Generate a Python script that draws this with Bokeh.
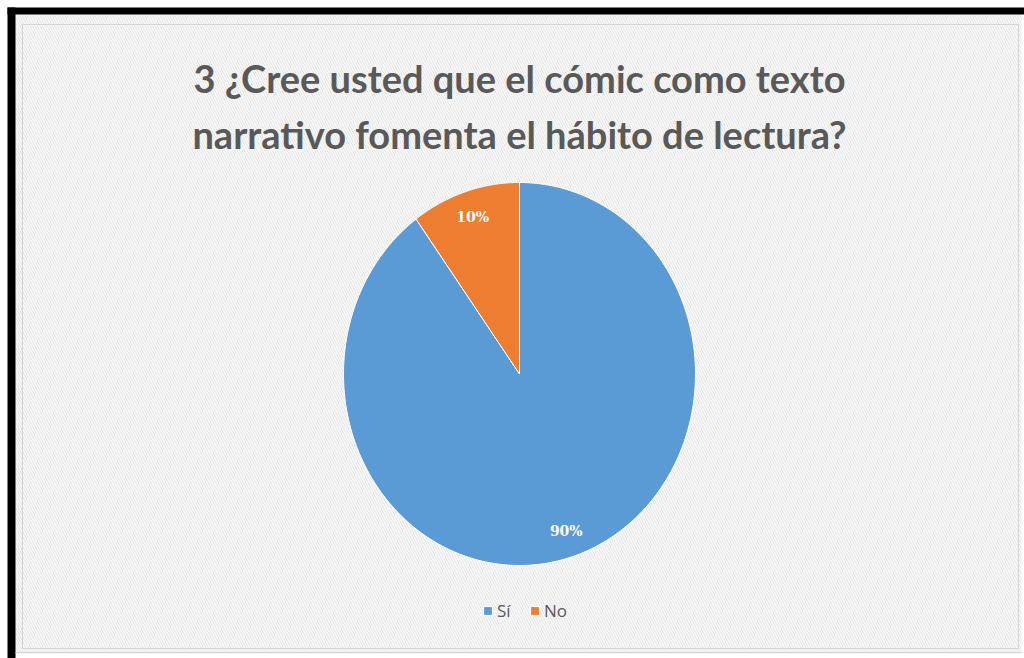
import numpy as np
from bokeh.plotting import figure
from bokeh.models import Range1d, Legend, LegendItem
from bokeh.core.properties import value
from bokeh.embed import file_html
from bokeh.resources import INLINE

# ---- data ----
categories = ["Sí", "No"]
percentages = [90, 10]
labels = ["90%", "10%"]
colors = ["#5B9BD5", "#ED7D31"]
title_lines = ["3 ¿Cree usted que el cómic como texto",
               "narrativo fomenta el hábito de lectura?"]

# ---- layout (page-pixel coordinates) ----
W, H = 1024, 658
CX, CY = 519, 373.5
RX, RY = 176, 191.5
LABEL_R = 0.86

p = figure(width=W, height=H, output_backend="svg", toolbar_location=None,
           x_range=Range1d(0, W), y_range=Range1d(H, 0),
           x_axis_location=None, y_axis_location=None,
           min_border_left=0, min_border_top=0, min_border_right=0, min_border_bottom=0,
           border_fill_color="white", background_fill_color="white",
           outline_line_color=None)
p.grid.visible = False

# hatched chart background
p.quad(left=[15], right=[1021], top=[14], bottom=[653], fill_color="#fbfbfb",
       line_color=None, hatch_pattern="left_diagonal_line", hatch_color="#e3e3e3",
       hatch_scale=5, hatch_weight=1)
# black frame (top and left)
p.quad(left=[7, 7], right=[W, 15], top=[7, 7], bottom=[14, H], fill_color="black",
       line_color=None)
# inner chart borders
p.quad(left=[22], right=[1018], top=[24], bottom=[648], fill_color=None,
       line_color="#d4d4d4", line_width=1)
p.segment(x0=[15], x1=[1021], y0=[652], y1=[652], line_color="#d4d4d4", line_width=1)

# pie (clockwise from 12 o'clock, like Excel)
fracs = np.array(percentages, dtype=float) / sum(percentages)
ends = np.cumsum(fracs) * 2 * np.pi
starts = ends - fracs * 2 * np.pi
renderers = []
lx, ly = [], []
for cat, s, e, c in zip(categories, starts, ends, colors):
    t = np.linspace(s, e, 240)
    xs = np.concatenate([[CX], CX + RX * np.sin(t), [CX]])
    ys = np.concatenate([[CY], CY - RY * np.cos(t), [CY]])
    r = p.patch(xs, ys, fill_color=c, line_color="white", line_width=1)
    renderers.append(r)
    m = (s + e) / 2
    lx.append(CX + LABEL_R * RX * np.sin(m))
    ly.append(CY - LABEL_R * RY * np.cos(m))

p.text(x=lx, y=ly, text=labels, text_color="white", text_font=value("DejaVu Serif"),
       text_font_style="bold", text_font_size="14px", text_align="center",
       text_baseline="middle")

# title
p.text(x=[CX, CX], y=[77, 133], text=title_lines, text_color="#595959",
       text_font=value("Lato"), text_font_style="bold", text_font_size="38px",
       text_align="center", text_baseline="middle")

legend = Legend(items=[LegendItem(label=cat, renderers=[r]) for cat, r in zip(categories, renderers)],
                orientation="horizontal", location=(482, 36),
                glyph_width=11, glyph_height=11, label_standoff=4, spacing=12,
                padding=0, margin=0, background_fill_alpha=0, border_line_color=None,
                label_text_font="Open Sans", label_text_font_size="17px",
                label_text_color="#595959")
p.add_layout(legend, "center")

open("out.html", "w").write(file_html(p, INLINE))
